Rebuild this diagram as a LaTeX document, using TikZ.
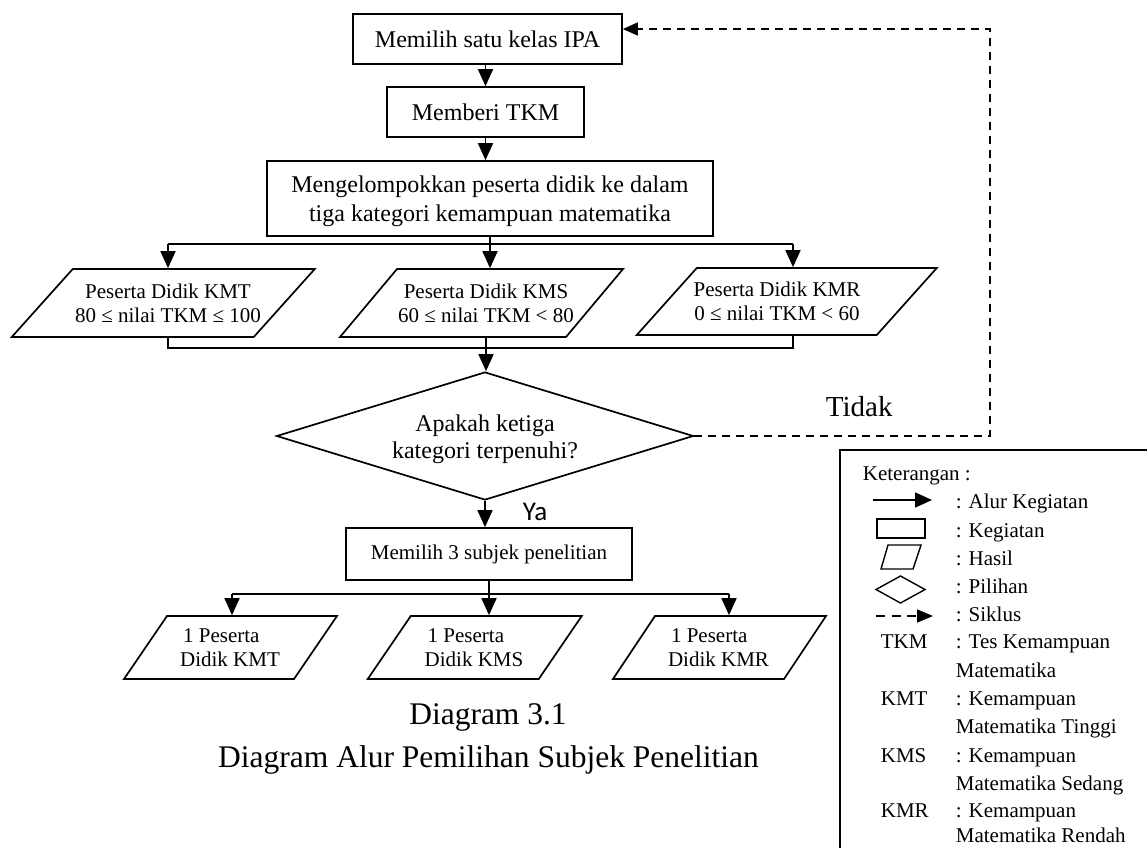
\documentclass[tikz,border=0pt]{standalone}
\usepackage{fontspec}
\setmainfont{Liberation Serif}
\newfontfamily\yafont{Carlito}
\usetikzlibrary{arrows.meta,shapes.geometric}
\newcommand\drawpara[5]{\draw (#1-#3/2+#5/2,#2-#4/2) -- ++(#3,0) -- ++(-#5,#4) -- ++(-#3,0) -- cycle;}
\begin{document}
\begin{tikzpicture}[x=1pt,y=-1pt,line width=1.7pt,
  arr/.style={-{Triangle[length=17pt,width=15pt]}},
  darr/.style={line width=1.5pt,dash pattern=on 8pt off 6pt,-{Triangle[length=15pt,width=13pt]}},
  boxA/.style={draw,rectangle,inner sep=0pt,align=center,font=\fontsize{24}{29}\selectfont},
  boxB/.style={draw,rectangle,inner sep=0pt,align=center,font=\fontsize{21}{24}\selectfont},
  ptext/.style={inner sep=0pt,align=center,font=\fontsize{21}{24}\selectfont},
  pltext/.style={inner sep=0pt,align=left,font=\fontsize{21}{24}\selectfont},
  lt/.style={anchor=base west,inner sep=0pt,font=\fontsize{21}{24}\selectfont},
  captext/.style={anchor=base,inner sep=0pt,font=\fontsize{31.5}{36}\selectfont}]
\useasboundingbox (0,0) rectangle (1147,847);
\clip (0,0) rectangle (1147,847);

% boxes
\node[boxA,minimum width=269pt,minimum height=50pt] (b1) at (487.5,39) {Memilih satu kelas IPA};
\node[boxA,minimum width=197pt,minimum height=50pt] (b2) at (485.5,112) {Memberi TKM};
\node[boxA,minimum width=446pt,minimum height=75pt] (b3) at (490,198.5) {};
\node[inner sep=0pt,align=center,font=\fontsize{24}{29}\selectfont] (b3t) at (490,201.5) {Mengelompokkan peserta didik ke dalam\\tiga kategori kemampuan matematika};
\draw[arr] (b2.north |- b1.south) -- (b2.north);
\draw[arr] (b2.south) -- (b2.south |- b3.north);

% first row of results
\drawpara{163.25}{303}{242}{68}{61}
\drawpara{481.5}{303}{226}{68}{57}
\drawpara{786.75}{301.5}{240}{67}{60}
\node[ptext,minimum height=68pt] (kmt) at (168,303) {Peserta Didik KMT\\80 ≤ nilai TKM ≤ 100};
\node[ptext,minimum height=68pt] (kms) at (486,303) {Peserta Didik KMS\\60 ≤ nilai TKM < 80};
\node[ptext,minimum height=67pt] (kmr) at (777,301.5) {Peserta Didik KMR\\0 ≤ nilai TKM < 60};

\coordinate (bus1) at (490,244);
\coordinate (kmrx) at (793,244);
\coordinate (col) at (486,348);
\draw (bus1 -| kmt.north) -- (kmrx);
\draw[arr] (b3.south) -- (b3.south |- kms.north);
\draw[arr] (bus1 -| kmt.north) -- (kmt.north);
\draw[arr] (kmrx) -- (kmrx |- kmr.north);
\draw (kmt.south) -- (kmt.south |- col) -- (col -| kmrx) -- (kmrx |- kmr.south);

% decision
\node[draw,diamond,aspect=3.26,minimum width=417pt,minimum height=128pt,inner sep=0pt] (dia) at (485,436) {};
\node[inner sep=0pt,align=center,font=\fontsize{24}{27}\selectfont] (diat) at (485,439.5) {Apakah ketiga\\kategori terpenuhi?};
\draw[arr] (kms.south) -- (kms.south |- dia.north);

\node[anchor=base west,inner sep=0pt,font=\fontsize{29}{32}\selectfont] (tidak) at (825,416) {Tidak};
\coordinate (lp) at (990,29);
\draw[darr] (dia.east) -- (dia.east -| lp) -- (lp) -- ([yshift=10pt]b1.east);

\node[boxB,minimum width=286pt,minimum height=52pt] (b4) at (489,554) {Memilih 3 subjek penelitian};
\draw[arr] (dia.south) -- (dia.south |- b4.north);
\node[anchor=base west,inner sep=0pt,font=\yafont\fontsize{27}{30}\selectfont] (ya) at (522,520) {Ya};

% second row of results
\drawpara{230.5}{647.5}{170}{63}{43}
\drawpara{474.75}{647.5}{171}{63}{43}
\drawpara{719.5}{647.5}{171}{63}{42}
\node[pltext,minimum height=63pt] (p1) at (230,647.5) {\hspace*{3pt}1 Peserta\\Didik KMT};
\node[pltext,minimum height=63pt] (p2) at (474,647.5) {\hspace*{3pt}1 Peserta\\Didik KMS};
\node[pltext,minimum height=63pt] (p3) at (718.5,647.5) {\hspace*{3pt}1 Peserta\\Didik KMR};

\coordinate (b2l) at (232,594);
\coordinate (b2r) at (729,594);
\draw (b2l) -- (b2r);
\draw[arr] (b4.south) -- (b4.south |- p2.north);
\draw[arr] (b2l) -- (b2l |- p1.north);
\draw[arr] (b2r) -- (b2r |- p3.north);

% caption
\node[captext] (cap1) at (488,724) {Diagram 3.1};
\node[captext] (cap2) at (488.5,767) {Diagram Alur Pemilihan Subjek Penelitian};

% legend
\draw (840,450) rectangle (1180,880);
\node[lt] (ket) at (862,480) {Keterangan :};
\draw[arr] (873,500) -- (932,500);
\draw[line width=1.5pt] (877,519) rectangle (925,538);
\draw[line width=1.4pt] (888,545) -- (921,545) -- (913,569) -- (881,569) -- cycle;
\draw[line width=1.4pt] (876,589.5) -- (900.5,576) -- (925,589.5) -- (900.5,603) -- cycle;
\draw[line width=1.7pt,dash pattern=on 9pt off 6.5pt,-{Triangle[length=16pt,width=13pt]}] (876,616) -- (933,616);
\node[lt] (l1) at (955,508) {: Alur Kegiatan};
\node[lt] (l2) at (955,537) {: Kegiatan};
\node[lt] (l3) at (955,565) {: Hasil};
\node[lt] (l4) at (955,593) {: Pilihan};
\node[lt] (l5) at (955,621) {: Siklus};
\node[lt] (t1) at (880,648) {TKM};
\node[lt] (l6) at (955,648) {: Tes Kemampuan};
\node[lt] (l7) at (955,677) {Matematika};
\node[lt] (t2) at (880,705) {KMT};
\node[lt] (l8) at (955,705) {: Kemampuan};
\node[lt] (l9) at (955,733) {Matematika Tinggi};
\node[lt] (t3) at (880,762) {KMS};
\node[lt] (l10) at (955,762) {: Kemampuan};
\node[lt] (l11) at (955,790) {Matematika Sedang};
\node[lt] (t4) at (880,817) {KMR};
\node[lt] (l12) at (955,817) {: Kemampuan};
\node[lt] (l13) at (955,842) {Matematika Rendah};
\end{tikzpicture}
\end{document}
